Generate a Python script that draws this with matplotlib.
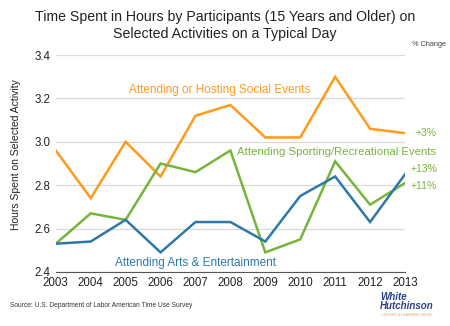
import matplotlib.pyplot as plt

plt.rcParams['font.family'] = ['Liberation Sans', 'DejaVu Sans']

years = [2003, 2004, 2005, 2006, 2007, 2008, 2009, 2010, 2011, 2012, 2013]
social = [2.96, 2.74, 3.00, 2.84, 3.12, 3.17, 3.02, 3.02, 3.30, 3.06, 3.04]
sports = [2.53, 2.67, 2.64, 2.90, 2.86, 2.96, 2.49, 2.55, 2.91, 2.71, 2.81]
arts = [2.53, 2.54, 2.64, 2.49, 2.63, 2.63, 2.54, 2.75, 2.84, 2.63, 2.85]
yticks = [2.4, 2.6, 2.8, 3.0, 3.2, 3.4]

orange = '#FF9A1A'
green = '#76B53C'
blue = '#2F78A8'

fig = plt.figure(figsize=(4.5, 3.26), dpi=100)
ax = fig.add_axes([0.124, 0.166, 0.776, 0.665])

ax.plot(years, social, color=orange, lw=1.8, solid_joinstyle='miter')
ax.plot(years, sports, color=green, lw=1.8, solid_joinstyle='miter')
ax.plot(years, arts, color=blue, lw=1.8, solid_joinstyle='miter')

ax.set_xlim(2003, 2013)
ax.set_ylim(2.4, 3.4)
ax.set_xticks(years)
ax.set_yticks(yticks)
ax.set_yticklabels([f'{v:.1f}' for v in yticks])
ax.grid(axis='y', color='#d9d9d9', lw=0.9)
ax.set_axisbelow(True)
for s in ['top', 'right', 'left']:
    ax.spines[s].set_visible(False)
ax.spines['bottom'].set_color('#555555')
ax.tick_params(length=0, labelsize=8.3, colors='#222222', pad=4)
ax.set_ylabel('Hours Spent on Selected Activity', fontsize=7.5, color='#222222')
ax.yaxis.set_label_coords(-0.1, 0.54)

# series labels
ax.text(2005.1, 3.24, 'Attending or Hosting Social Events', color=orange, fontsize=8.5, va='center')
ax.text(2008.2, 2.955, 'Attending Sporting/Recreational Events', color=green, fontsize=8.2, va='center')
ax.text(2004.7, 2.44, 'Attending Arts & Entertainment', color=blue, fontsize=8.5, va='center')
ax.text(2013.3, 3.04, '+3%', color=green, fontsize=7.5, va='center', clip_on=False)
ax.text(2013.15, 2.875, '+13%', color=green, fontsize=7.5, va='center', clip_on=False)
ax.text(2013.15, 2.795, '+11%', color=green, fontsize=7.5, va='center', clip_on=False)

fig.text(0.5, 0.922, 'Time Spent in Hours by Participants (15 Years and Older) on\nSelected Activities on a Typical Day',
         ha='center', va='center', fontsize=10.2, linespacing=1.25, color='#222222')
fig.text(0.99, 0.862, '% Change', ha='right', va='center', fontsize=5.3, color='#444444')
fig.text(0.022, 0.063, 'Source: U.S. Department of Labor American Time Use Survey', fontsize=4.8, color='#333333', va='center')
fig.text(0.845, 0.075, 'White\nHutchinson', fontsize=7, color='#2B3F8C', style='italic', weight='bold',
         va='center', ha='left', linespacing=0.8)
fig.text(0.85, 0.035, 'LEISURE & LEARNING GROUP', fontsize=2.5, color='#E0A060', va='center', ha='left')

fig.savefig('out.png', dpi=100)
